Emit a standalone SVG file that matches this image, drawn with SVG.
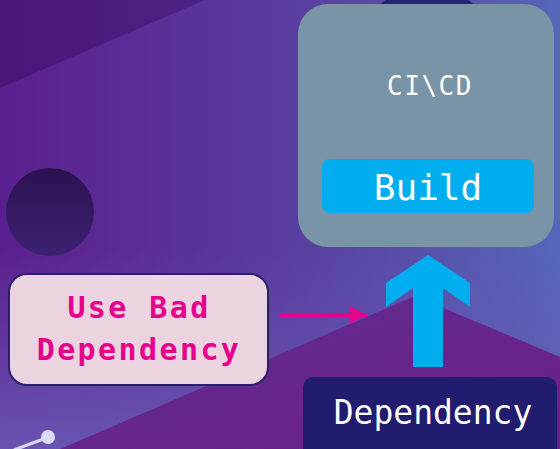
<svg xmlns="http://www.w3.org/2000/svg" width="560" height="449" viewBox="0 0 560 449">
  <defs>
    <linearGradient id="bg" x1="0" y1="0" x2="1" y2="0">
      <stop offset="0" stop-color="#5a1f8e"/>
      <stop offset="0.5" stop-color="#5a3c9e"/>
      <stop offset="1" stop-color="#5566b8"/>
    </linearGradient>
    <linearGradient id="bgLow" x1="0" y1="0" x2="0" y2="1">
      <stop offset="0" stop-color="#6a55b0" stop-opacity="0"/>
      <stop offset="1" stop-color="#6a5ab4" stop-opacity="0.9"/>
    </linearGradient>
    <linearGradient id="wedge" x1="0" y1="0" x2="1" y2="0">
      <stop offset="0" stop-color="#4a1678"/>
      <stop offset="1" stop-color="#4b2382"/>
    </linearGradient>
    <linearGradient id="hill" x1="0" y1="0" x2="1" y2="1">
      <stop offset="0" stop-color="#5e2d92"/>
      <stop offset="1" stop-color="#6e1f85"/>
    </linearGradient>
    <linearGradient id="orb" x1="0" y1="0" x2="0" y2="1">
      <stop offset="0" stop-color="#2c1150"/>
      <stop offset="1" stop-color="#3c2272"/>
    </linearGradient>
    <marker id="pinkHead" viewBox="0 0 10 10" refX="10" refY="5" markerWidth="6" markerHeight="4.5" markerUnits="strokeWidth" orient="auto">
      <path d="M0,0 L10,5 L0,10 z" fill="#e6008c"/>
    </marker>
    <style>
      .mono { font-family: "DejaVu Sans Mono", "Liberation Mono", monospace; text-anchor: middle; }
      .light { fill: #ffffff; }
      .bad { fill: #e6008c; font-weight: bold; font-size: 30px; letter-spacing: 2.4px; }
    </style>
  </defs>

  <!-- backdrop -->
  <rect x="0" y="0" width="560" height="449" fill="url(#bg)"/>
  <rect x="0" y="250" width="560" height="199" fill="url(#bgLow)"/>
  <polygon points="0,0 205,0 0,88" fill="url(#wedge)"/>
  <polygon points="60,449 415,296 560,357 560,449" fill="url(#hill)"/>
  <circle cx="50" cy="212" r="44" fill="url(#orb)"/>
  <circle cx="427" cy="64" r="76" fill="#22286f"/>
  <line x1="14" y1="450" x2="46" y2="438" stroke="#d8d8f2" stroke-width="3"/>
  <circle cx="48" cy="437" r="7" fill="#dcdcf5"/>

  <!-- connectors -->
  <g id="connectors">
    <line x1="280" y1="315" x2="367" y2="315" stroke="#e6008c" stroke-width="4" marker-end="url(#pinkHead)"/>
    <polygon points="428,255 470,283 470,307 443,288 443,367 413,367 413,288 386,307 386,283" fill="#00aeef"/>
  </g>

  <g id="cicd">
    <rect x="298" y="4" width="256" height="243" rx="30" fill="#7994a6"/>
    <text class="mono light" x="430" y="95" font-size="26" letter-spacing="1.5">CI\CD</text>
  </g>

  <g id="build">
    <rect x="322" y="159" width="212" height="54" rx="8" fill="#00aeef"/>
    <text class="mono light" x="428" y="200" font-size="36">Build</text>
  </g>

  <g id="use-bad-dependency">
    <rect x="9" y="274" width="259" height="111" rx="18" fill="#ecd3e0" stroke="#2a1f6e" stroke-width="2"/>
    <text class="mono bad" x="139" y="318">Use Bad</text>
    <text class="mono bad" x="139" y="360">Dependency</text>
  </g>

  <g id="dependency">
    <rect x="303" y="377" width="254" height="90" rx="10" fill="#211c6e"/>
    <text class="mono light" x="433" y="424" font-size="33">Dependency</text>
  </g>
</svg>
